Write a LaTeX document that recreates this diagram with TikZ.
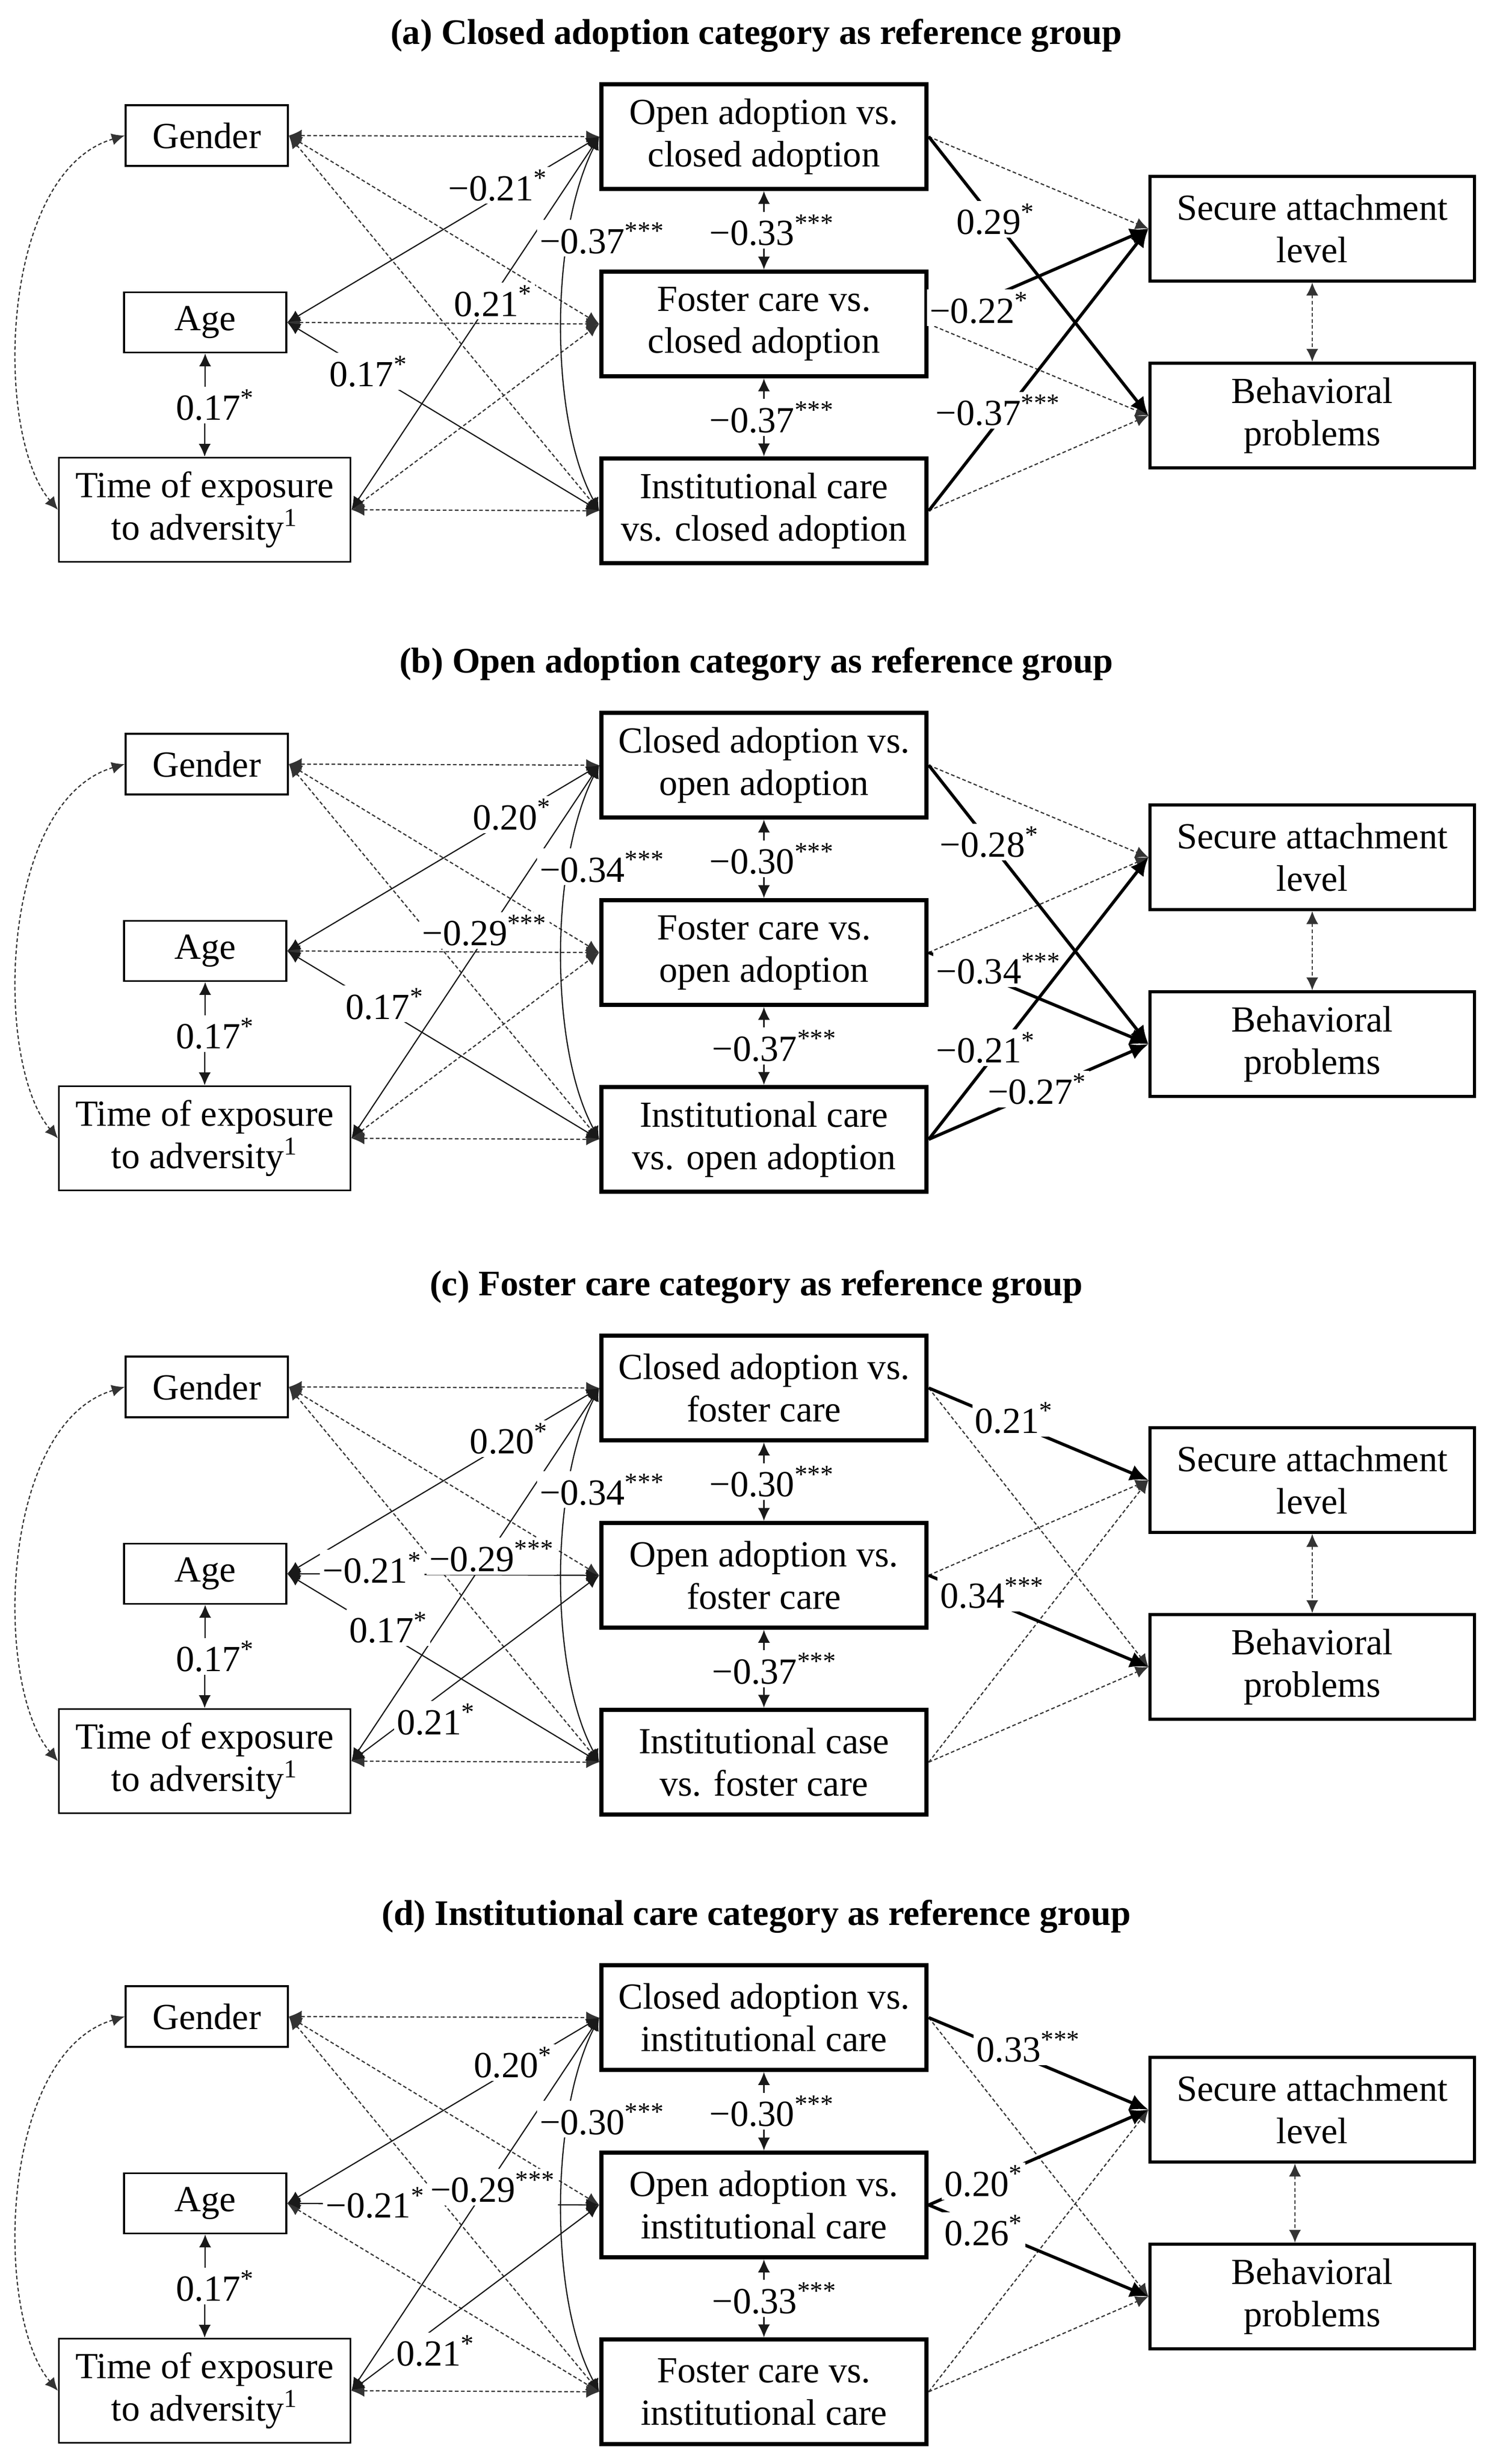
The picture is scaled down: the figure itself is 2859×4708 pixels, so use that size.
\documentclass[tikz,border=0pt]{standalone}
\usepackage{fontspec}
\setmainfont{Liberation Serif}
\usetikzlibrary{arrows.meta}
\newcommand{\onestar}{\textsuperscript{*}}
\newcommand{\threestar}{\textsuperscript{***}}
\newcommand{\panelbase}[5]{%
 \node[ttl] (#1ttl) at (1445,84) {#2};
 \node[cov, minimum width=3.10cm, minimum height=1.16cm] (#1g) at (395,259) {Gender};
 \node[cov, minimum width=3.10cm, minimum height=1.15cm] (#1a) at (392,616) {Age};
 \node[cov, minimum width=5.57cm, minimum height=1.99cm] (#1t) at (391,974) {Time of exposure\\to adversity\textsuperscript{1}};
 \node[med] (#1m1) at (1459.5,261) {#3};
 \node[med] (#1m2) at (1459.5,619) {#4};
 \node[med] (#1m3) at (1459.5,976) {#5};
 \node[outc] (#1s) at (2507,437) {Secure attachment\\level};
 \node[outc] (#1b) at (2507,794) {Behavioral\\problems};
 \draw[cvd] (#1g.west) .. controls +(-240,71) and +(-123,-144) .. (#1t.west);
 \draw[cvd] (#1g.east) -- (#1m1.west);
 \draw[cvd] (#1g.east) -- (#1m2.west);
 \draw[cvd] (#1g.east) -- (#1m3.west);
 \draw[cvd] (#1t.east) -- (#1m3.west);
 \draw[cvs] (#1a.south) -- node[lab, shift={(20,0)}] {0.17\onestar} (#1t.north);
}
\tikzset{
 every node/.style={font=\fontsize{20}{23}\selectfont},
 boxbase/.style={draw, align=center, inner sep=0pt, fill=white},
 cov/.style={boxbase, line width=1pt},
 med/.style={boxbase, line width=2.3pt, minimum width=6.21cm, minimum height=2.0cm},
 outc/.style={boxbase, line width=1.6pt, minimum width=6.2cm, minimum height=2.0cm},
 ttl/.style={font=\bfseries\fontsize{19.5}{23}\selectfont, anchor=base},
 lab/.style={fill=white, inner sep=1.5pt},
 tipA/.tip={Latex[length=7pt,width=6.5pt]},
 cvs/.style={tipA-tipA, line width=0.65pt, draw=black!90},
 cvd/.style={tipA-tipA, line width=0.65pt, draw=black!80, dash pattern=on 2pt off 1.3pt},
 pth/.style={-{Latex[length=10pt,width=9pt]}, line width=1.7pt},
 pthd/.style={-tipA, line width=0.65pt, draw=black!80, dash pattern=on 2pt off 1.3pt},
}
\begin{document}
\begin{tikzpicture}[x=0.01cm,y=-0.01cm]
\useasboundingbox[fill=white] (0,0) rectangle (2859,4708);

% ---------------- panel (a)
\begin{scope}[shift={(0,0)}]
\panelbase{a}{(a) Closed adoption category as reference group}{Open adoption vs.\\closed adoption}{Foster care vs.\\closed adoption}{Institutional care\\vs. closed adoption}
\draw[cvd] (aa.east) -- (am2.west);
\draw[cvd] (at.east) -- (am2.west);
\draw[pthd] (am1.east) -- (as.west);
\draw[pthd] (am2.east) -- (ab.west);
\draw[pthd] (am3.east) -- (ab.west);
\draw[cvd] (as.south) -- (ab.north);
\draw[cvs] (aa.east) -- node[lab,pos=0.67,shift={(3,-24)}]{−0.21\onestar} (am1.west);
\draw[cvs] (at.east) -- node[lab,pos=0.572,shift={(0,9)}]{0.21\onestar} (am1.west);
\draw[cvs] (aa.east) -- node[lab,pos=0.26]{0.17\onestar} (am3.west);
\draw[cvs] (am1.west) .. controls +(-95,189) and +(-95,-176) .. node[lab,pos=0.28,shift={(63,5)}]{−0.37\threestar} (am3.west);
\draw[cvs] (am1.south) -- node[lab,shift={(15,0)}]{−0.33\threestar} (am2.north);
\draw[cvs] (am2.south) -- node[lab,shift={(15,0)}]{−0.37\threestar} (am3.north);
\draw[pth] (am1.east) -- node[lab,pos=0.304,shift={(0,-4)}]{0.29\onestar} (ab.west);
\draw[pth] (am2.east) -- node[lab,pos=0.23,shift={(0,11)}]{−0.22\onestar} (as.west);
\draw[pth] (am3.east) -- node[lab,pos=0.316,shift={(0,-22)}]{−0.37\threestar} (as.west);
\end{scope}

% ---------------- panel (b)
\begin{scope}[shift={(0,1201)}]
\panelbase{b}{(b) Open adoption category as reference group}{Closed adoption vs.\\open adoption}{Foster care vs.\\open adoption}{Institutional care\\vs. open adoption}
\draw[cvd] (ba.east) -- (bm2.west);
\draw[cvd] (bt.east) -- (bm2.west);
\draw[pthd] (bm1.east) -- (bs.west);
\draw[pthd] (bm2.east) -- (bs.west);
\draw[cvd] (bs.south) -- (bb.north);
\draw[cvs] (ba.east) -- node[lab,pos=0.72,shift={(0,-5)}]{0.20\onestar} (bm1.west);
\draw[cvs] (bt.east) -- node[lab,pos=0.537,shift={(0,-14)}]{−0.29\threestar} (bm1.west);
\draw[cvs] (ba.east) -- node[lab,pos=0.312,shift={(0,-11)}]{0.17\onestar} (bm3.west);
\draw[cvs] (bm1.west) .. controls +(-95,189) and +(-95,-176) .. node[lab,pos=0.28,shift={(63,5)}]{−0.34\threestar} (bm3.west);
\draw[cvs] (bm1.south) -- node[lab,shift={(15,0)}]{−0.30\threestar} (bm2.north);
\draw[cvs] (bm2.south) -- node[lab,shift={(20,0)}]{−0.37\threestar} (bm3.north);
\draw[pth] (bm1.east) -- node[lab,pos=0.276]{−0.28\onestar} (bb.west);
\draw[pth] (bm2.east) -- node[lab,pos=0.318,shift={(0,-25)}]{−0.34\threestar} (bb.west);
\draw[pth] (bm3.east) -- node[lab,pos=0.26,shift={(0,-35)}]{−0.21\onestar} (bs.west);
\draw[pth] (bm3.east) -- node[lab,pos=0.494,shift={(0,-6)}]{−0.27\onestar} (bb.west);
\end{scope}

% ---------------- panel (c)
\begin{scope}[shift={(0,2391)}]
\panelbase{c}{(c) Foster care category as reference group}{Closed adoption vs.\\foster care}{Open adoption vs.\\foster care}{Institutional case\\vs. foster care}
\draw[pthd] (cm1.east) -- (cb.west);
\draw[pthd] (cm2.east) -- (cs.west);
\draw[pthd] (cm3.east) -- (cs.west);
\draw[pthd] (cm3.east) -- (cb.west);
\draw[cvd] (cs.south) -- (cb.north);
\draw[cvs] (ca.east) -- node[lab,pos=0.711,shift={(0,-6)}]{0.20\onestar} (cm1.west);
\draw[cvs] (ca.east) -- node[lab,pos=0.272,shift={(0,-12)}]{−0.21\onestar} (cm2.west);
\draw[cvs] (ct.east) -- node[lab,pos=0.566,shift={(0,12)}]{−0.29\threestar} (cm1.west);
\draw[cvs] (ca.east) -- node[lab,pos=0.324,shift={(0,-14)}]{0.17\onestar} (cm3.west);
\draw[cvs] (ct.east) -- node[lab,pos=0.225,shift={(55,0)}]{0.21\onestar} (cm2.west);
\draw[cvs] (cm1.west) .. controls +(-95,189) and +(-95,-176) .. node[lab,pos=0.28,shift={(63,5)}]{−0.34\threestar} (cm3.west);
\draw[cvs] (cm1.south) -- node[lab,shift={(15,0)}]{−0.30\threestar} (cm2.north);
\draw[cvs] (cm2.south) -- node[lab,shift={(20,0)}]{−0.37\threestar} (cm3.north);
\draw[pth] (cm1.east) -- node[lab,pos=0.389,shift={(0,-11)}]{0.21\onestar} (cs.west);
\draw[pth] (cm2.east) -- node[lab,pos=0.29,shift={(0,-17)}]{0.34\threestar} (cb.west);
\end{scope}

% ---------------- panel (d)
\begin{scope}[shift={(0,3594)}]
\panelbase{d}{(d) Institutional care category as reference group}{Closed adoption vs.\\institutional care}{Open adoption vs.\\institutional care}{Foster care vs.\\institutional care}
\draw[cvd] (da.east) -- (dm3.west);
\draw[pthd] (dm1.east) -- (db.west);
\draw[pthd] (dm3.east) -- (ds.west);
\draw[pthd] (dm3.east) -- (db.west);
\draw[cvd] ([xshift=-0.33cm]ds.south) -- ([xshift=-0.33cm]db.north);
\draw[cvs] (da.east) -- node[lab,pos=0.724,shift={(0,-12)}]{0.20\onestar} (dm1.west);
\draw[cvs] (da.east) -- node[lab,pos=0.282,shift={(0,-2)}]{−0.21\onestar} (dm2.west);
\draw[cvs] (dt.east) -- node[lab,pos=0.57,shift={(0,17)}]{−0.29\threestar} (dm1.west);
\draw[cvs] (dt.east) -- node[lab,pos=0.215,shift={(59,0)}]{0.21\onestar} (dm2.west);
\draw[cvs] (dm1.west) .. controls +(-95,189) and +(-95,-176) .. node[lab,pos=0.28,shift={(63,5)}]{−0.30\threestar} (dm3.west);
\draw[cvs] (dm1.south) -- node[lab,shift={(15,0)}]{−0.30\threestar} (dm2.north);
\draw[cvs] (dm2.south) -- node[lab,shift={(20,0)}]{−0.33\threestar} (dm3.north);
\draw[pth] (dm1.east) -- node[lab,pos=0.454,shift={(0,-24)}]{0.33\threestar} (ds.west);
\draw[pth] (dm2.east) -- node[lab,pos=0.25]{0.20\onestar} (ds.west);
\draw[pth] (dm2.east) -- node[lab,pos=0.25,shift={(0,5)}]{0.26\onestar} (db.west);
\end{scope}
\end{tikzpicture}
\end{document}
